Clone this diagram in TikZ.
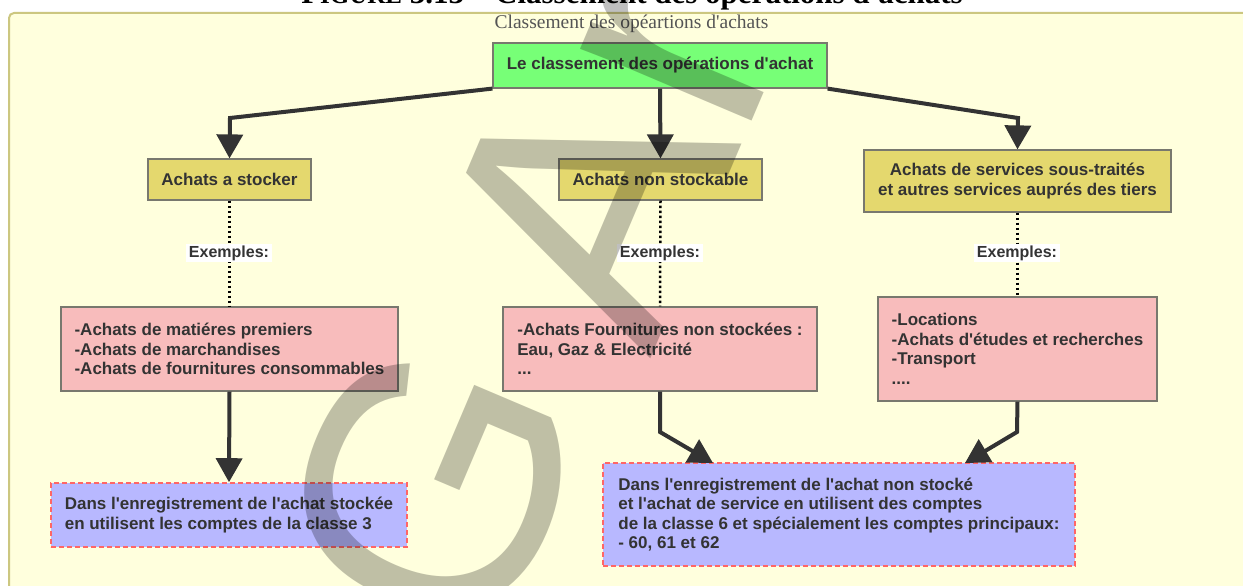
\documentclass[tikz,border=0pt]{standalone}
\usepackage{fontspec}
\setmainfont{Liberation Sans}[Ligatures=TeXOff]
\newfontfamily\serifface{Liberation Serif}
\usetikzlibrary{arrows.meta}
\definecolor{panelbg}{RGB}{255,255,221}
\definecolor{panelbd}{RGB}{204,199,128}
\definecolor{greenbox}{RGB}{119,255,119}
\definecolor{yellowbox}{RGB}{228,216,110}
\definecolor{pinkbox}{RGB}{248,188,188}
\definecolor{bluebox}{RGB}{184,184,255}
\definecolor{redbd}{RGB}{255,102,102}
\definecolor{boxbd}{RGB}{120,120,110}
\definecolor{ink}{RGB}{51,51,51}
\definecolor{subgray}{RGB}{85,85,85}
\begin{document}
\begin{tikzpicture}[x=1pt,y=-1pt,
  txt/.style={font=\fontsize{17}{19.5}\selectfont\bfseries, text=ink},
  box/.style={draw=boxbd, line width=1.2pt, inner sep=0pt, txt},
  ybox/.style={box, fill=yellowbox, minimum height=41pt},
  pbox/.style={box, fill=pinkbox, minimum height=84pt, align=left},
  bbox/.style={txt, fill=bluebox, draw=redbd, line width=1.6pt, dash pattern=on 5pt off 3pt, inner sep=0pt, align=left},
  lab/.style={fill=white, inner xsep=2.5pt, inner ysep=1.5pt, font=\fontsize{16}{18}\selectfont\bfseries, text=ink},
  arr/.style={draw=ink, line width=4pt, -{Triangle[width=26pt,length=24pt]}},
  dots/.style={draw=black, line width=2.5pt, dash pattern=on 2.5pt off 2.5pt},
  wm/.style={font=\fontsize{352}{352}\selectfont, text=black, opacity=0.25, inner sep=0pt, anchor=base west, rotate=67}
]
\useasboundingbox (0,0) rectangle (1243,586);
\clip (0,0) rectangle (1243,586);
\fill[white] (0,0) rectangle (1243,586);
% panel
\draw[fill=panelbg, draw=panelbd, line width=2pt, rounded corners=5pt] (9,13) rectangle (1275,640);
% title and subtitle
\node[anchor=base, inner sep=0pt, font=\serifface\bfseries\fontsize{31}{31}\selectfont] (title) at (632,4) {F{\fontsize{25}{25}\selectfont IGURE} 3.13 – Classement des opérations d'achats};
\node[anchor=base, inner sep=0pt, font=\serifface\fontsize{19.5}{20}\selectfont, text=subgray] (sub) at (631.5,29) {Classement des opéartions d'achats};
% boxes
\node[box, fill=greenbox, minimum width=334pt, minimum height=45pt] (top) at (660,65.5) {Le classement des opérations d'achat};
\node[ybox, minimum width=163pt] (c1) at (229.5,179.5) {Achats a stocker};
\node[ybox, minimum width=203pt] (c2) at (660.5,179.5) {Achats non stockable};
\node[ybox, minimum width=307pt, minimum height=62pt, align=center] (c3) at (1017.5,181) {Achats de services sous-traités\\et autres services auprés des tiers};
\node[pbox, minimum width=337pt] (e1) at (229.5,349) {-Achats de matiéres premiers\\-Achats de marchandises\\-Achats de fournitures consommables};
\node[pbox, minimum width=314pt] (e2) at (660,349) {-Achats Fournitures non stockées :\\Eau, Gaz \& Electricité\\...};
\node[pbox, minimum width=279pt, minimum height=104pt] (e3) at (1017.5,349) {-Locations\\-Achats d'études et recherches\\-Transport\\....};
\node[bbox, minimum width=356pt, minimum height=64pt] (r1) at (229,515) {Dans l'enregistrement de l'achat stockée\\en utilisent les comptes de la classe 3};
\node[bbox, minimum width=472pt, minimum height=103pt] (r2) at (839,514.5) {Dans l'enregistrement de l'achat non stocké\\et l'achat de service en utilisent des comptes\\de la classe 6 et spécialement les comptes principaux:\\- 60, 61 et 62};
% connectors
\coordinate (k1) at (230,118);
\coordinate (k3) at (1018,118);
\coordinate (k4) at (660,432);
\coordinate (t4) at (713,463);
\coordinate (k5) at (1017,432);
\coordinate (t5) at (965,463);
\draw[arr] (top.south west) -- (k1) -- (c1.north);
\draw[arr] (top.south) -- (c2.north);
\draw[arr] (top.south east) -- (k3) -- (c3.north);
\draw[dots] (c1.south) -- (e1.north);
\draw[dots] (c2.south) -- (e2.north);
\draw[dots] (c3.south) -- (e3.north);
\node[lab] (x1) at (229,253) {Exemples:};
\node[lab] (x2) at (660,253) {Exemples:};
\node[lab] (x3) at (1017,253) {Exemples:};
\draw[arr] (e1.south) -- (r1.north);
\draw[arr] (e2.south) -- (k4) -- (t4);
\draw[arr] (e3.south) -- (k5) -- (t5);
% watermark
\node[wm] (wg) at (489,661) {G};
\node[wm] (wa) at (650,360) {A};
\node[wm] (wr) at (742,144) {r};
\end{tikzpicture}
\end{document}
